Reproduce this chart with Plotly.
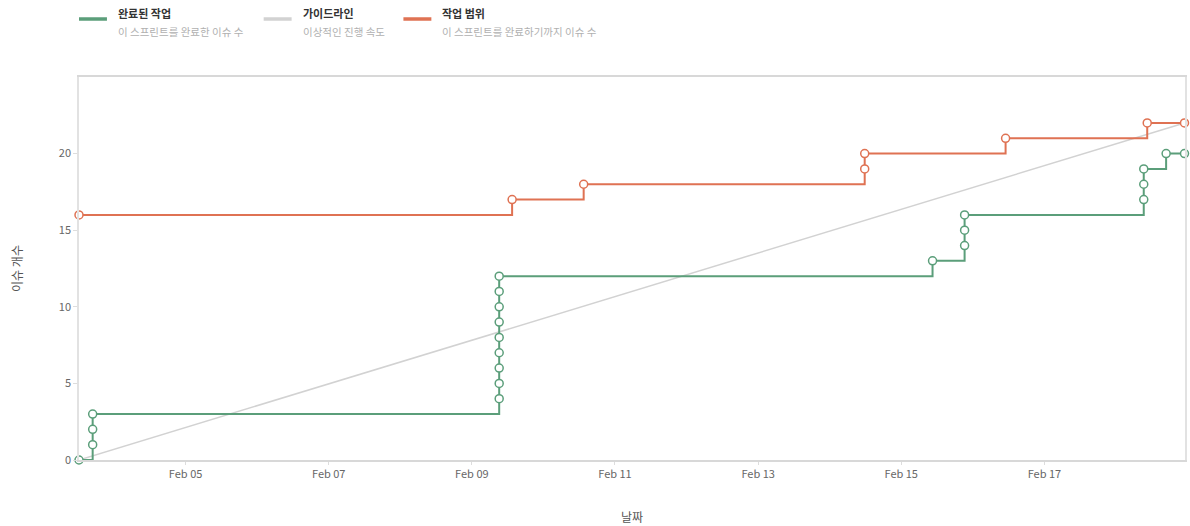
import plotly.graph_objects as go

# ---- data ----
done_x = ["2024-02-03 12:15",
          "2024-02-03 16:50", "2024-02-03 16:50", "2024-02-03 16:50",
          "2024-02-09 09:10", "2024-02-09 09:10", "2024-02-09 09:10",
          "2024-02-09 09:10", "2024-02-09 09:10", "2024-02-09 09:10",
          "2024-02-09 09:10", "2024-02-09 09:10", "2024-02-09 09:10",
          "2024-02-15 10:30",
          "2024-02-15 21:15", "2024-02-15 21:15", "2024-02-15 21:15",
          "2024-02-18 09:20", "2024-02-18 09:20", "2024-02-18 09:20",
          "2024-02-18 16:50",
          "2024-02-18 23:00"]
done_y = [0, 1, 2, 3, 4, 5, 6, 7, 8, 9, 10, 11, 12, 13, 14, 15, 16, 17, 18, 19, 20, 20]

scope_x = ["2024-02-03 12:15", "2024-02-09 13:30", "2024-02-10 13:30",
           "2024-02-14 11:45", "2024-02-14 11:45", "2024-02-16 11:00",
           "2024-02-18 10:30", "2024-02-18 23:00"]
scope_y = [16, 17, 18, 19, 20, 21, 22, 22]

guide_x = ["2024-02-03 12:15", "2024-02-18 23:00"]
guide_y = [0, 22]

legend_titles = ["완료된 작업", "가이드라인", "작업 범위"]
legend_subs = ["이 스프린트를 완료한 이슈 수", "이상적인 진행 속도", "이 스프린트를 완료하기까지 이슈 수"]

GREEN = "#5b9e7a"
GRAY = "#d2d2d2"
ORANGE = "#df7253"
colors = [GREEN, GRAY, ORANGE]

FONT = "Noto Sans CJK KR"

fig = go.Figure()
fig.add_trace(go.Scatter(x=guide_x, y=guide_y, mode="lines",
                         line=dict(color=GRAY, width=1.5), showlegend=False))
fig.add_trace(go.Scatter(x=scope_x, y=scope_y, mode="lines+markers", line_shape="hv",
                         line=dict(color=ORANGE, width=2), cliponaxis=False,
                         marker=dict(symbol="circle", size=8, color="white",
                                     line=dict(color=ORANGE, width=1.5)),
                         showlegend=False))
fig.add_trace(go.Scatter(x=done_x, y=done_y, mode="lines+markers", line_shape="hv",
                         line=dict(color=GREEN, width=2), cliponaxis=False,
                         marker=dict(symbol="circle", size=8, color="white",
                                     line=dict(color=GREEN, width=1.5)),
                         showlegend=False))

W, H = 1190, 526
L, R, T, B = 79, 3, 77, 66
pw, ph = W - L - R, H - T - B

def px(x):
    return (x - L) / pw

def py(y):
    return (H - B - y) / ph

shapes = []
annotations = []
leg_x = [79, 264, 404]
for i in range(3):
    x0 = leg_x[i]
    shapes.append(dict(type="line", xref="paper", yref="paper",
                       x0=px(x0), x1=px(x0 + 28), y0=py(19), y1=py(19),
                       line=dict(color=colors[i], width=3.5)))
    annotations.append(dict(xref="paper", yref="paper", x=px(x0 + 37), y=py(13),
                            text="<b>" + legend_titles[i] + "</b>", showarrow=False,
                            xanchor="left", yanchor="middle",
                            font=dict(family=FONT, size=11, color="#333333")))
    annotations.append(dict(xref="paper", yref="paper", x=px(x0 + 37), y=py(32),
                            text=legend_subs[i], showarrow=False,
                            xanchor="left", yanchor="middle",
                            font=dict(family=FONT, size=10.5, color="#b0b0b0")))

fig.update_layout(
    width=W, height=H,
    margin=dict(l=L, r=R, t=T, b=B),
    paper_bgcolor="white", plot_bgcolor="white",
    font=dict(family=FONT, size=11, color="#666666"),
    shapes=shapes, annotations=annotations,
    xaxis=dict(range=["2024-02-03 12:15", "2024-02-18 23:10"],
               tick0="2024-02-05", dtick=2 * 86400000, tickformat="%b %d",
               showgrid=False, zeroline=False,
               showline=True, linecolor="#d8d8d8", linewidth=1.5, mirror=True,
               ticks="outside", ticklen=3, tickcolor="#dddddd",
               tickfont=dict(size=11, color="#666666"),
               title=dict(text="날짜", standoff=34,
                          font=dict(family=FONT, size=12, color="#555555"))),
    yaxis=dict(range=[0, 25], tickvals=[0, 5, 10, 15, 20],
               showgrid=False, zeroline=False,
               showline=True, linecolor="#e2e2e2", linewidth=1.5, mirror=True,
               ticks="outside", ticklen=4, tickcolor="#dddddd",
               tickfont=dict(size=11, color="#666666"),
               title=dict(text="이슈 개수", standoff=34,
                          font=dict(family=FONT, size=12, color="#555555"))),
)

fig.write_html("out.html")
